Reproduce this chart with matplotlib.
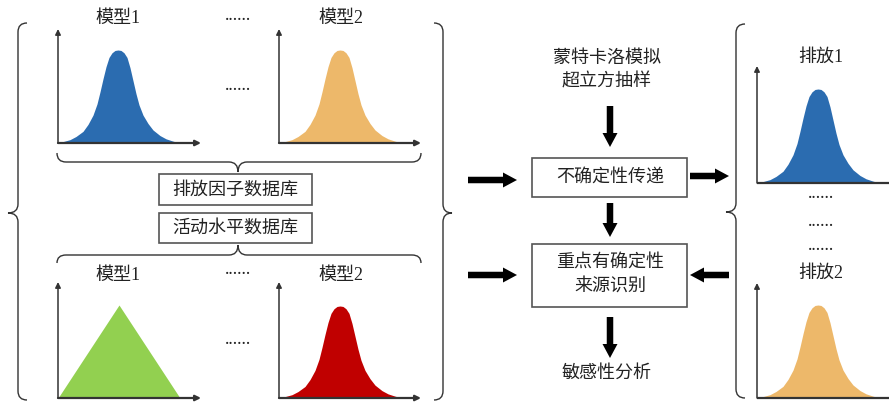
import numpy as np
import matplotlib.pyplot as plt
from matplotlib.path import Path
from matplotlib.patches import PathPatch, Rectangle, FancyArrow

plt.rcParams['font.family'] = ['Liberation Serif', 'Noto Sans CJK SC', 'DejaVu Sans']

# shape of the bell curves (offset from peak in px, relative height)
bell_dx = [-61, -55, -48, -42, -35, -30, -25, -21, -18, -15, -12, -9, -6, -3, 0,
           3, 6, 9, 12, 15, 18, 21, 25, 30, 35, 42, 48, 55, 62]
bell_h = [0.0, 0.015, 0.036, 0.07, 0.125, 0.2, 0.30, 0.42, 0.55, 0.69, 0.82, 0.92, 0.97, 0.995, 1.0,
          0.995, 0.97, 0.92, 0.81, 0.67, 0.53, 0.41, 0.30, 0.21, 0.14, 0.08, 0.045, 0.02, 0.0]
# triangular distribution
tri_dx = [-61, 0, 61]
tri_h = [0.0, 1.0, 0.0]

model_labels = ["模型1", "模型2"]
emis_labels = ["排放1", "排放2"]
db_labels = ["排放因子数据库", "活动水平数据库"]
mc_label = ["蒙特卡洛模拟", "超立方抽样"]
box1_label = "不确定性传递"
box2_label = ["重点有确定性", "来源识别"]
out_label = "敏感性分析"

c_blue = "#2b6cb0"
c_orange = "#edb86a"
c_green = "#92d050"
c_red = "#c00000"
c_txt = "#222222"
c_line = "#333333"
FS = 13


def mini_chart(ax, x0, y0, ytop, xend, peak_x, height, dx, h, color, arrow=True):
	xs = peak_x + np.array(dx, dtype=float)
	ys = y0 - height*np.array(h)
	ax.fill_between(xs, y0, ys, color=color, lw=0, zorder=2)
	ax.annotate("", xy=(x0, ytop), xytext=(x0, y0),
		arrowprops=dict(arrowstyle="-|>", color=c_line, lw=1.1, mutation_scale=8, shrinkA=0, shrinkB=0), zorder=3)
	if arrow:
		ax.annotate("", xy=(xend, y0), xytext=(x0, y0),
			arrowprops=dict(arrowstyle="-|>", color=c_line, lw=1.6, mutation_scale=8, shrinkA=0, shrinkB=0), zorder=3)
	else:
		ax.plot([x0, xend], [y0, y0], color=c_line, lw=1.6, zorder=3, solid_capstyle="butt")


def hbrace(ax, x0, x1, xm, y_end, y_line, y_tip, r=9):
	verts = [(x0, y_end), (x0, y_line), (x0+r, y_line), (xm-r, y_line), (xm, y_line), (xm, y_tip),
	         (xm, y_line), (xm+r, y_line), (x1-r, y_line), (x1, y_line), (x1, y_end)]
	codes = [Path.MOVETO, Path.CURVE3, Path.CURVE3, Path.LINETO, Path.CURVE3, Path.CURVE3,
	         Path.CURVE3, Path.CURVE3, Path.LINETO, Path.CURVE3, Path.CURVE3]
	ax.add_patch(PathPatch(Path(verts, codes), fill=False, ec=c_line, lw=1.0))


def vbrace(ax, y0, y1, ym, x_end, x_line, x_tip, r=9):
	verts = [(x_end, y0), (x_line, y0), (x_line, y0+r), (x_line, ym-r), (x_line, ym), (x_tip, ym),
	         (x_line, ym), (x_line, ym+r), (x_line, y1-r), (x_line, y1), (x_end, y1)]
	codes = [Path.MOVETO, Path.CURVE3, Path.CURVE3, Path.LINETO, Path.CURVE3, Path.CURVE3,
	         Path.CURVE3, Path.CURVE3, Path.LINETO, Path.CURVE3, Path.CURVE3]
	ax.add_patch(PathPatch(Path(verts, codes), fill=False, ec=c_line, lw=1.0))


def big_arrow(ax, x0, y0, x1, y1):
	ax.add_patch(FancyArrow(x0, y0, x1-x0, y1-y0, width=6.5, head_width=15, head_length=14,
		length_includes_head=True, color="black", lw=0))


def box(ax, x0, y0, x1, y1):
	ax.add_patch(Rectangle((x0, y0), x1-x0, y1-y0, fill=False, ec="#555555", lw=1.2))


def dots(ax, x, y):
	ax.text(x, y + 1.5, "......", ha="center", va="baseline", fontsize=FS, color=c_txt)


fig = plt.figure(figsize=(8.89, 4.03), dpi=100)
ax = fig.add_axes([0, 0, 1, 1])
ax.set_xlim(0, 889)
ax.set_ylim(403, 0)
ax.axis("off")

# left block: models
mini_chart(ax, 58, 143, 29, 201, 118, 93, bell_dx, bell_h, c_blue)
mini_chart(ax, 279, 143, 29, 421, 340, 93, bell_dx, bell_h, c_orange)
mini_chart(ax, 58, 398, 282, 201, 119, 93, tri_dx, tri_h, c_green)
mini_chart(ax, 279, 398, 282, 421, 340, 92, bell_dx, bell_h, c_red)

for y in [18, 275]:
	ax.text(118, y, model_labels[0], ha="center", va="center", fontsize=FS, color=c_txt)
	ax.text(341, y, model_labels[1], ha="center", va="center", fontsize=FS, color=c_txt)
for y in [19, 88, 273, 343]:
	dots(ax, 238, y)

hbrace(ax, 57, 421, 238, 153, 162, 172)
hbrace(ax, 57, 421, 238, 263, 255, 245)

box(ax, 159, 174, 312, 205)
box(ax, 159, 213, 312, 243)
ax.text(235.5, 190, db_labels[0], ha="center", va="center", fontsize=FS, color=c_txt)
ax.text(235.5, 228, db_labels[1], ha="center", va="center", fontsize=FS, color=c_txt)

vbrace(ax, 23, 400, 213, 27, 18, 8)
vbrace(ax, 23, 400, 213, 434, 443, 452)

# center column
ax.text(607, 58, mc_label[0], ha="center", va="center", fontsize=FS, color=c_txt)
ax.text(607, 82, mc_label[1], ha="center", va="center", fontsize=FS, color=c_txt)
big_arrow(ax, 610, 106, 610, 147)
box(ax, 532, 158, 687, 197)
ax.text(610, 177, box1_label, ha="center", va="center", fontsize=FS, color=c_txt)
big_arrow(ax, 610, 203, 610, 237)
box(ax, 532, 244, 687, 307)
ax.text(610, 262, box2_label[0], ha="center", va="center", fontsize=FS, color=c_txt)
ax.text(610, 286, box2_label[1], ha="center", va="center", fontsize=FS, color=c_txt)
big_arrow(ax, 610, 317, 610, 358)
ax.text(607, 373, out_label, ha="center", va="center", fontsize=FS, color=c_txt)

big_arrow(ax, 468, 180, 517, 180)
big_arrow(ax, 468, 275, 517, 275)
big_arrow(ax, 690, 176, 729, 176)
big_arrow(ax, 729, 275, 690, 275)

# right block
vbrace(ax, 24, 398, 212, 745, 736, 726)
ax.text(821, 57, emis_labels[0], ha="center", va="center", fontsize=FS, color=c_txt)
mini_chart(ax, 757, 183, 66, 889, 818, 94, bell_dx, bell_h, c_blue, arrow=False)
for y in [197, 224, 248]:
	dots(ax, 821, y)
ax.text(821, 273, emis_labels[1], ha="center", va="center", fontsize=FS, color=c_txt)
mini_chart(ax, 757, 398, 283, 889, 818, 93, bell_dx, bell_h, c_orange, arrow=False)

fig.savefig("out.png", dpi=100)
plt.close()
